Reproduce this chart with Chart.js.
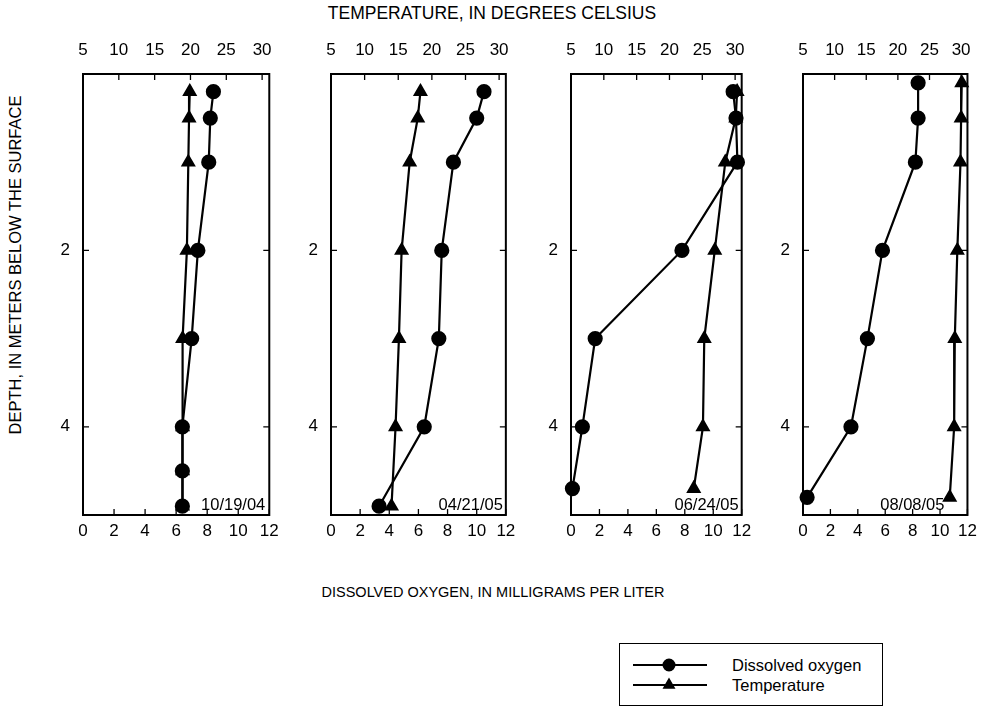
<!DOCTYPE html>
<html>
<head>
<meta charset="utf-8">
<script src="https://cdn.jsdelivr.net/npm/chart.js@4.4.1/dist/chart.umd.min.js"></script>
<style>
body { margin: 0; background: #fff; font-family: "Liberation Sans", Arial, sans-serif; }
#wrap { position: relative; width: 985px; height: 708px; overflow: hidden; }
#wrap canvas { position: absolute; }
.ttl { position: absolute; color: #000; white-space: nowrap; transform: translate(-50%, -50%); }
#legend { position: absolute; left: 619px; top: 643px; width: 262px; height: 61px; border: 1.5px solid #000; }
#legend canvas { position: absolute; left: 0; top: 0; }
#legend span { position: absolute; left: 112px; font-size: 16.5px; line-height: 18px; }
</style>
</head>
<body>
<div id="wrap">
  <div class="ttl" style="left:492px; top:13px; font-size:17.5px;">TEMPERATURE, IN DEGREES CELSIUS</div>
  <div class="ttl" style="left:493px; top:592px; font-size:14.5px;">DISSOLVED OXYGEN, IN MILLIGRAMS PER LITER</div>
  <div class="ttl" style="left:15px; top:265px; font-size:16.5px; transform: translate(-50%, -50%) rotate(-90deg);">DEPTH, IN METERS BELOW THE SURFACE</div>
  <div id="legend">
    <canvas id="legend_marks" width="100" height="61"></canvas>
    <span style="top:12px;">Dissolved oxygen</span>
    <span style="top:32px;">Temperature</span>
  </div>
</div>
<script>
'use strict';

// sampling dates, one per panel
const dates = ['10/19/04', '04/21/05', '06/24/05', '08/08/05'];

// depth (m), dissolved oxygen (mg/L), temperature (deg C)
const depth_1 = [0.2, 0.5, 1, 2, 3, 4, 4.5, 4.9];
const oxygen_1 = [8.4, 8.2, 8.1, 7.4, 7.0, 6.4, 6.4, 6.4];
const temp_1 = [19.9, 19.8, 19.7, 19.5, 18.9, 18.9, 18.9, 18.9];

const depth_2 = [0.2, 0.5, 1, 2, 3, 4, 4.9];
const oxygen_2 = [10.5, 10.0, 8.4, 7.6, 7.4, 6.4, 3.3];
const temp_2 = [18.3, 17.9, 16.7, 15.5, 15.1, 14.6, 14.0];

const depth_3 = [0.2, 0.5, 1, 2, 3, 4, 4.7];
const oxygen_3 = [11.4, 11.6, 11.7, 7.8, 1.7, 0.8, 0.1];
const temp_3 = [30.3, 30.1, 28.5, 26.9, 25.3, 25.1, 23.7];

const depth_4 = [0.1, 0.5, 1, 2, 3, 4, 4.8];
const oxygen_4 = [8.4, 8.4, 8.2, 5.8, 4.7, 3.5, 0.3];
const temp_4 = [30.1, 30.0, 29.9, 29.4, 29.0, 28.9, 28.2];

const temp_ticks = [5, 10, 15, 20, 25, 30];
const oxygen_ticks = [0, 2, 4, 6, 8, 10, 12];
const depth_ticks = [2, 4];

const depths = [depth_1, depth_2, depth_3, depth_4];
const oxygens = [oxygen_1, oxygen_2, oxygen_3, oxygen_4];
const temps = [temp_1, temp_2, temp_3, temp_4];

// where each panel's plot frame sits on the page
const frames = [
    { left: 83, right: 274, date_inset: 4 },
    { left: 331, right: 511, date_inset: 3 },
    { left: 571, right: 747, date_inset: 3 },
    { left: 803, right: 973, date_inset: 23 },
];
const frame_top = 74;
const frame_bottom = 515;
const y_axis_w = 40;
const top_axis_h = 34;
const bottom_axis_h = 30;
const pad_right = 11;

const tick_font = { family: 'Liberation Sans', size: 17 };

const frame_plugin = {
    id: 'frame',
    afterDraw(chart, args, opts) {
        const ctx = chart.ctx;
        const a = chart.chartArea;
        const len = 6;
        ctx.save();
        ctx.strokeStyle = '#000';
        ctx.lineWidth = 1.3;
        ctx.beginPath();
        chart.scales.y.ticks.forEach(t => {
            const py = chart.scales.y.getPixelForValue(t.value);
            ctx.moveTo(a.left, py); ctx.lineTo(a.left + len, py);
            ctx.moveTo(a.right, py); ctx.lineTo(a.right - len, py);
        });
        chart.scales.x.ticks.forEach(t => {
            const px = chart.scales.x.getPixelForValue(t.value);
            ctx.moveTo(px, a.bottom); ctx.lineTo(px, a.bottom - len);
        });
        chart.scales.xt.ticks.forEach(t => {
            const px = chart.scales.xt.getPixelForValue(t.value);
            ctx.moveTo(px, a.top); ctx.lineTo(px, a.top + len);
        });
        ctx.stroke();
        ctx.lineWidth = 2;
        ctx.strokeRect(a.left, a.top, a.right - a.left, a.bottom - a.top);
        ctx.fillStyle = '#000';
        ctx.font = '16.5px "Liberation Sans", Arial, sans-serif';
        ctx.textAlign = 'right';
        ctx.textBaseline = 'middle';
        ctx.fillText(opts.date, a.right - opts.inset, a.bottom - 10);
        ctx.restore();
    }
};

const wrap = document.getElementById('wrap');

frames.forEach((f, i) => {
    const canvas = document.createElement('canvas');
    const left = f.left - y_axis_w;
    canvas.width = f.right + pad_right - left;
    canvas.height = frame_bottom + bottom_axis_h - (frame_top - top_axis_h);
    canvas.style.left = left + 'px';
    canvas.style.top = (frame_top - top_axis_h) + 'px';
    wrap.appendChild(canvas);

    const oxygen_pts = depths[i].map((d, k) => ({ x: oxygens[i][k], y: d }));
    const temp_pts = depths[i].map((d, k) => ({ x: temps[i][k], y: d }));

    new Chart(canvas, {
        type: 'scatter',
        data: {
            datasets: [{
                label: 'Dissolved oxygen',
                data: oxygen_pts,
                xAxisID: 'x',
                showLine: true,
                borderColor: '#000',
                backgroundColor: '#000',
                borderWidth: 2.2,
                pointStyle: 'circle',
                pointRadius: 6.5,
                clip: false,
            }, {
                label: 'Temperature',
                data: temp_pts,
                xAxisID: 'xt',
                showLine: true,
                borderColor: '#000',
                backgroundColor: '#000',
                borderWidth: 2.2,
                pointStyle: 'triangle',
                pointRadius: 6.5,
                clip: false,
            }]
        },
        options: {
            responsive: false,
            animation: false,
            layout: { padding: { left: 0, right: pad_right, top: 0, bottom: 0 } },
            plugins: {
                legend: { display: false },
                tooltip: { enabled: false },
                frame: { date: dates[i], inset: f.date_inset },
            },
            scales: {
                x: {
                    type: 'linear',
                    position: 'bottom',
                    min: 0,
                    max: 12,
                    grid: { display: false, drawTicks: false },
                    border: { display: false },
                    ticks: { font: tick_font, color: '#000', padding: 6, maxRotation: 0 },
                    afterBuildTicks: s => { s.ticks = oxygen_ticks.map(v => ({ value: v })); },
                    afterFit: s => { s.height = bottom_axis_h; },
                },
                xt: {
                    type: 'linear',
                    position: 'top',
                    min: 5,
                    max: 31,
                    grid: { display: false, drawTicks: false },
                    border: { display: false },
                    ticks: { font: tick_font, color: '#000', padding: 13, maxRotation: 0 },
                    afterBuildTicks: s => { s.ticks = temp_ticks.map(v => ({ value: v })); },
                    afterFit: s => { s.height = top_axis_h; },
                },
                y: {
                    type: 'linear',
                    reverse: true,
                    min: 0,
                    max: 5,
                    grid: { display: false, drawTicks: false },
                    border: { display: false },
                    ticks: { font: tick_font, color: '#000', padding: 13 },
                    afterBuildTicks: s => { s.ticks = depth_ticks.map(v => ({ value: v })); },
                    afterFit: s => { s.width = y_axis_w; },
                }
            }
        },
        plugins: [frame_plugin]
    });
});

// legend samples
const lc = document.getElementById('legend_marks').getContext('2d');
lc.strokeStyle = '#000';
lc.fillStyle = '#000';
lc.lineWidth = 2;
[[21, 'circle'], [41, 'triangle']].forEach(([y, style]) => {
    lc.beginPath();
    lc.moveTo(13, y); lc.lineTo(87, y);
    lc.stroke();
    Chart.helpers.drawPoint(lc, { pointStyle: style, radius: 5.5, borderWidth: 1 }, 49, y);
    lc.fill();
});
</script>
</body>
</html>
